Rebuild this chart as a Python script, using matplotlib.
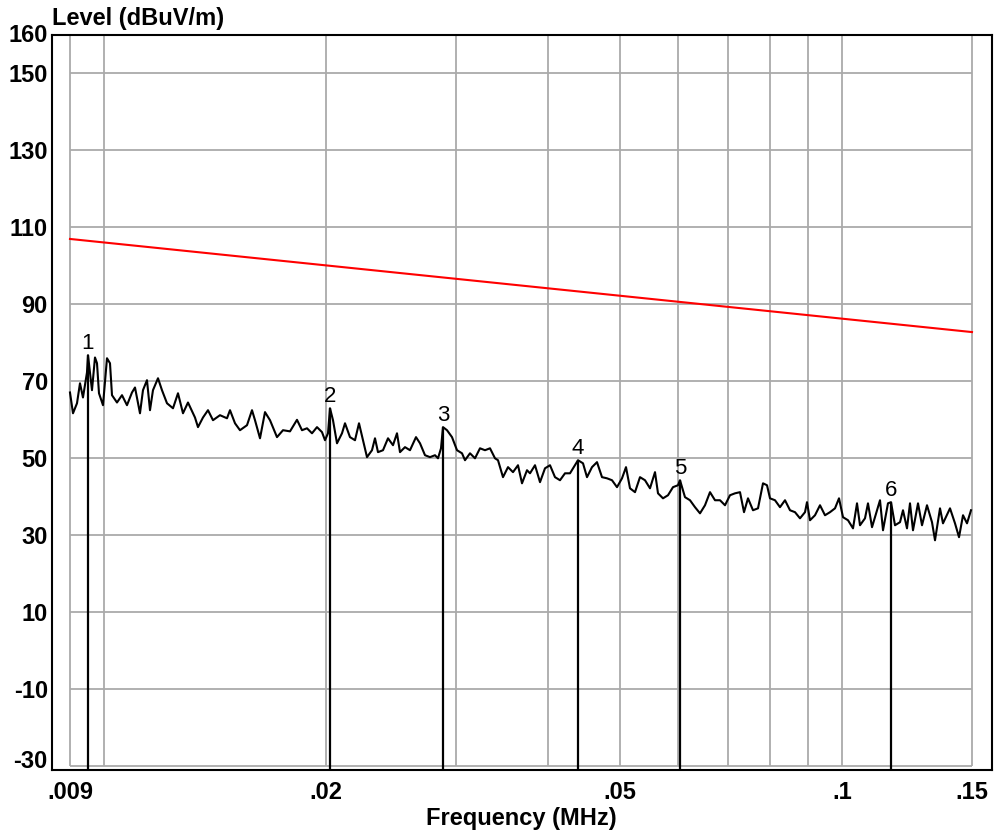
import numpy as np
import matplotlib
matplotlib.use('Agg')
import matplotlib.pyplot as plt
import matplotlib.transforms as mtransforms

# trace, frequency in kHz, level in dBuV/m
freq_khz = [
    9.000, 9.085, 9.199, 9.285, 9.372, 9.490, 9.520, 9.639, 9.730, 9.791,
    9.852, 9.976, 10.101, 10.196, 10.260, 10.421, 10.585, 10.751, 10.920, 11.023,
    11.196, 11.301, 11.443, 11.551, 11.659, 11.843, 11.991, 12.180, 12.410, 12.605,
    12.803, 13.004, 13.291, 13.416, 13.627, 13.841, 14.059, 14.369, 14.687, 14.825,
    15.058, 15.294, 15.632, 15.878, 16.027, 16.279, 16.535, 16.795, 17.165, 17.490,
    17.876, 18.270, 18.557, 18.849, 19.145, 19.446, 19.752, 19.937, 20.125, 20.251,
    20.441, 20.698, 21.023, 21.221, 21.554, 21.893, 22.168, 22.446, 22.728, 23.085,
    23.302, 23.521, 23.891, 24.267, 24.648, 24.957, 25.192, 25.588, 25.990, 26.481,
    26.814, 27.235, 27.663, 28.098, 28.362, 28.629, 28.808, 29.170, 29.628, 30.094,
    30.567, 30.854, 31.339, 31.832, 32.332, 32.840, 33.356, 33.881, 34.199, 34.736,
    35.283, 35.837, 36.400, 36.857, 37.437, 37.789, 38.382, 38.986, 39.599, 40.221,
    40.853, 41.495, 42.147, 42.810, 43.483, 43.891, 44.581, 45.141, 45.850, 46.571,
    47.303, 48.047, 48.802, 49.569, 50.348, 50.980, 51.620, 52.431, 53.255, 54.092,
    54.942, 55.806, 56.331, 57.216, 58.115, 59.028, 59.956, 60.332, 61.280, 62.243,
    63.221, 64.215, 65.224, 66.249, 67.292, 68.350, 69.422, 70.513, 71.622, 72.748,
    73.663, 74.586, 75.758, 76.949, 78.158, 79.139, 79.883, 81.138, 82.414, 83.710,
    85.026, 86.362, 87.719, 89.098, 89.656, 90.498, 91.921, 93.366, 94.833, 96.324,
    97.837, 99.066, 100.31, 101.89, 103.49, 104.79, 105.77, 107.43, 108.44, 109.81,
    111.53, 112.58, 113.64, 115.42, 116.51, 117.97, 119.83, 120.95, 122.47, 123.62,
    124.78, 126.75, 128.34, 130.35, 132.40, 133.65, 135.75, 137.02, 140.05, 142.25,
    144.04, 145.85, 147.68, 149.53,
]
level = [
    67.1, 61.7, 64.3, 69.5, 65.8, 72.3, 76.8, 67.7, 76.2, 74.7,
    66.9, 63.8, 76.0, 74.7, 66.4, 64.5, 66.4, 63.8, 67.1, 68.4,
    61.7, 67.7, 70.3, 62.5, 67.7, 70.8, 67.7, 64.3, 63.0, 66.9,
    61.7, 64.5, 60.6, 58.1, 60.6, 62.5, 59.9, 61.2, 60.4, 62.5,
    59.1, 57.3, 58.6, 62.5, 59.9, 55.2, 62.0, 59.9, 55.5, 57.3,
    57.0, 60.0, 57.3, 57.8, 56.5, 58.1, 56.8, 54.7, 56.5, 63.0,
    59.9, 53.9, 56.5, 59.1, 55.5, 54.7, 59.1, 54.7, 50.3, 52.1,
    55.2, 51.6, 52.1, 55.2, 53.4, 56.5, 51.6, 52.9, 52.1, 55.5,
    53.9, 50.8, 50.3, 50.8, 50.0, 52.6, 58.1, 57.3, 55.5, 52.1,
    51.3, 49.5, 51.3, 50.0, 52.6, 52.1, 52.6, 50.0, 49.5, 45.1,
    47.7, 46.4, 48.2, 43.5, 46.9, 46.1, 48.2, 43.8, 47.4, 48.2,
    45.1, 44.3, 46.1, 46.1, 48.2, 49.5, 48.7, 45.1, 47.7, 49.0,
    45.1, 44.8, 44.3, 42.5, 44.8, 47.7, 42.2, 41.2, 45.1, 44.3,
    42.2, 46.4, 40.9, 39.6, 40.4, 42.5, 43.0, 44.3, 39.9, 39.1,
    37.3, 35.7, 37.8, 41.2, 39.1, 39.1, 37.8, 40.4, 40.9, 41.2,
    36.0, 39.6, 36.5, 37.0, 43.5, 43.0, 39.6, 39.1, 37.3, 39.1,
    36.5, 36.0, 34.4, 36.0, 38.6, 33.9, 35.2, 37.8, 35.2, 36.0,
    37.0, 39.6, 34.7, 33.9, 31.8, 38.3, 32.6, 34.4, 38.3, 32.1,
    36.5, 39.1, 31.3, 38.3, 38.6, 32.6, 33.4, 36.5, 31.8, 38.3,
    31.3, 38.3, 32.6, 37.8, 33.4, 28.7, 37.0, 33.1, 37.0, 33.1,
    29.5, 35.2, 33.1, 36.5,
]

# limit line end points
limit_khz = [9.0, 150.0]
limit_level = [107.0, 82.8]

# peak markers
marker_khz = [9.52, 20.25, 28.81, 43.89, 60.33, 116.51]
marker_level = [76.8, 63.0, 58.1, 49.5, 44.3, 38.6]
marker_names = ['1', '2', '3', '4', '5', '6']

x_ticks = [0.009, 0.02, 0.05, 0.1, 0.15]
x_ticklabels = ['.009', '.02', '.05', '.1', '.15']
x_grid = [0.009, 0.01, 0.02, 0.03, 0.04, 0.05, 0.06, 0.07, 0.08, 0.09, 0.1, 0.15]
y_ticks = [160, 150, 130, 110, 90, 70, 50, 30, 10, -10, -30]
y_grid = [150, 130, 110, 90, 70, 50, 30, 10, -10, -30]


def main():
    plt.rcParams['font.family'] = ['Liberation Sans', 'DejaVu Sans']
    fig = plt.figure(figsize=(9.95, 8.34), dpi=100)
    ax = fig.add_axes([52 / 995, 1 - 770 / 834, 940 / 995, 735 / 834])

    f = np.array(freq_khz) / 1000
    ax.hlines(y_grid, x_grid[0], x_grid[-1], color='#aaaaaa', lw=1.3, zorder=1)
    ax.vlines(x_grid, y_grid[-1], 160, color='#aaaaaa', lw=1.3, zorder=1)

    ax.plot(np.array(limit_khz) / 1000, limit_level, color='#ff0000', lw=1.5, zorder=3)
    ax.plot(f, level, color='black', lw=1.5, zorder=4)

    mf = np.array(marker_khz) / 1000
    ax.vlines(mf, -31, marker_level, color='black', lw=1.6, zorder=5)
    for x, y, name in zip(mf, marker_level, marker_names):
        ax.text(x, y + 0.3, name, ha='center', va='bottom', fontsize=16, color='black', zorder=6)

    ax.set_xscale('log')
    ax.set_xlim(0.008509, 0.15965)
    ax.set_ylim(-31, 160)
    ax.set_xticks(x_ticks)
    ax.set_xticklabels(x_ticklabels)
    ax.xaxis.set_minor_locator(matplotlib.ticker.NullLocator())
    ax.set_yticks(y_ticks)
    ax.set_yticklabels([str(v) for v in y_ticks])
    ax.tick_params(length=0, labelsize=17)
    ax.tick_params(axis='x', pad=8)
    ax.tick_params(axis='y', pad=3)
    for lab in ax.get_xticklabels() + ax.get_yticklabels():
        lab.set_fontweight('bold')
    # bottom y label sits a little higher in the original
    ylabs = ax.get_yticklabels()
    ylabs[-1].set_transform(ylabs[-1].get_transform() +
                            mtransforms.ScaledTranslation(0, 7 / 100, fig.dpi_scale_trans))
    ylabs[0].set_transform(ylabs[0].get_transform() +
                           mtransforms.ScaledTranslation(0, 2 / 100, fig.dpi_scale_trans))
    for sp in ax.spines.values():
        sp.set_color('black')
        sp.set_linewidth(1.5)

    fig.text(52 / 995, 1 - 18 / 834, 'Level (dBuV/m)', ha='left', va='center',
             fontsize=17, fontweight='bold')
    fig.text(521 / 995, 1 - 818 / 834, 'Frequency (MHz)', ha='center', va='center',
             fontsize=17, fontweight='bold')

    fig.savefig('out.png', dpi=100)


if __name__ == '__main__':
    main()
